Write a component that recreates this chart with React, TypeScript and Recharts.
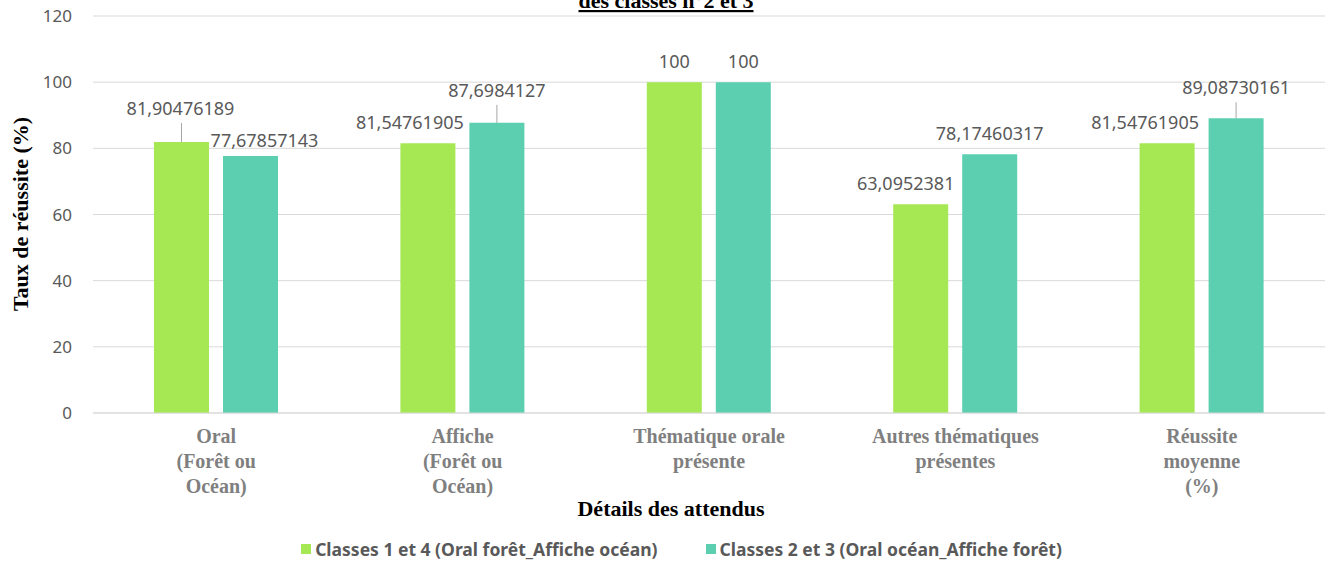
import { BarChart, Bar, XAxis, YAxis, CartesianGrid, Legend, LabelList } from "recharts";

const categories = [
  "Oral\n(Forêt ou\nOcéan)",
  "Affiche\n(Forêt ou\nOcéan)",
  "Thématique orale\nprésente",
  "Autres thématiques\nprésentes",
  "Réussite\nmoyenne\n(%)",
];
const classes14 = [81.90476189, 81.54761905, 100, 63.0952381, 81.54761905];
const classes23 = [77.67857143, 87.6984127, 100, 78.17460317, 89.08730161];
const yTicks = [0, 20, 40, 60, 80, 100, 120];

const seriesNames = [
  "Classes 1 et 4 (Oral forêt_Affiche océan)",
  "Classes 2 et 3 (Oral océan_Affiche forêt)",
];

// label nudges (Excel moved some labels by hand)
const nudges14 = [[-1, -34], [-18, -21], [0, -21], [-15, -21], [-22, -21]];
const nudges23 = [[14, -16], [0, -33], [0, -21], [0, -21], [0, -31]];

const data = categories.map((category, i) => ({
  category,
  c14: classes14[i],
  c23: classes23[i],
}));

const fmt = (v: number) => String(v).replace(".", ",");

const makeLabel = (nudges: number[][]) => (props: any) => {
  const x = Number(props.x);
  const y = Number(props.y);
  const w = Number(props.width);
  const [dx, dy] = nudges[props.index];
  const cx = x + w / 2;
  return (
    <g>
      {dy < -28 && (
        <line x1={cx} x2={cx} y1={y} y2={y + dy + 15} stroke="#a6a6a6" strokeWidth={1} />
      )}
      <text
        x={cx + dx}
        y={y + dy}
        textAnchor="middle"
        dominantBaseline="central"
        fontFamily="Noto Sans"
        fontSize={18}
        fill="#595959"
      >
        {fmt(props.value)}
      </text>
    </g>
  );
};

const CategoryTick = (props: any) => {
  const { x, y, payload } = props;
  const lines = String(payload.value).split("\n");
  return (
    <text
      textAnchor="middle"
      fontFamily="Liberation Serif"
      fontWeight="bold"
      fontSize={20}
      fill="#7f7f7f"
    >
      {lines.map((l, i) => (
        <tspan key={i} x={x} y={y + 22 + i * 25}>
          {l}
        </tspan>
      ))}
    </text>
  );
};

const LegendContent = (props: any) => (
  <div
    style={{
      height: 28,
      display: "flex",
      justifyContent: "center",
      alignItems: "center",
      gap: 48,
      paddingLeft: 38,
      fontFamily: "Noto Sans",
      fontWeight: "bold",
      fontSize: 17.5,
      color: "#595959",
    }}
  >
    {props.payload.map((p: any) => (
      <div key={p.value} style={{ display: "flex", alignItems: "center" }}>
        <span style={{ width: 10, height: 10, background: p.color, marginRight: 4 }} />
        {p.value}
      </div>
    ))}
  </div>
);

export default function App() {
  return (
    <div style={{ position: "absolute", left: 0, top: 0, background: "#fff" }}>
      <BarChart
        width={1330}
        height={565}
        data={data}
        margin={{ top: 16, right: 5, left: 0, bottom: 2 }}
        barGap={14}
      >
        <text
          x={666}
          y={8}
          textAnchor="middle"
          fontFamily="Liberation Serif"
          fontWeight="bold"
          fontSize={22}
          textDecoration="underline"
          fill="#000"
        >
          des classes n°2 et 3
        </text>
        <CartesianGrid vertical={false} stroke="#d9d9d9" />
        <XAxis
          dataKey="category"
          interval={0}
          tickLine={false}
          axisLine={{ stroke: "#d9d9d9" }}
          height={122}
          tick={<CategoryTick />}
          label={{
            content: () => (
              <text
                x={671}
                y={516}
                textAnchor="middle"
                fontFamily="Liberation Serif"
                fontWeight="bold"
                fontSize={22}
                fill="#000"
              >
                Détails des attendus
              </text>
            ),
          }}
        />
        <YAxis
          domain={[0, 120]}
          ticks={yTicks}
          width={93}
          axisLine={false}
          tickLine={false}
          tickSize={0}
          tickMargin={21}
          tick={{ fill: "#595959", fontSize: 17, fontFamily: "Noto Sans" }}
          label={{
            content: () => (
              <text
                x={20}
                y={214}
                transform="rotate(-90 20 214)"
                textAnchor="middle"
                dominantBaseline="central"
                fontFamily="Liberation Serif"
                fontWeight="bold"
                fontSize={22}
                fill="#000"
              >
                Taux de réussite (%)
              </text>
            ),
          }}
        />
        <Legend verticalAlign="bottom" content={<LegendContent />} />
        <Bar dataKey="c14" name={seriesNames[0]} fill="#a6e853" barSize={55} isAnimationActive={false}>
          <LabelList dataKey="c14" content={makeLabel(nudges14)} />
        </Bar>
        <Bar dataKey="c23" name={seriesNames[1]} fill="#5ccfb1" barSize={55} isAnimationActive={false}>
          <LabelList dataKey="c23" content={makeLabel(nudges23)} />
        </Bar>
      </BarChart>
    </div>
  );
}
